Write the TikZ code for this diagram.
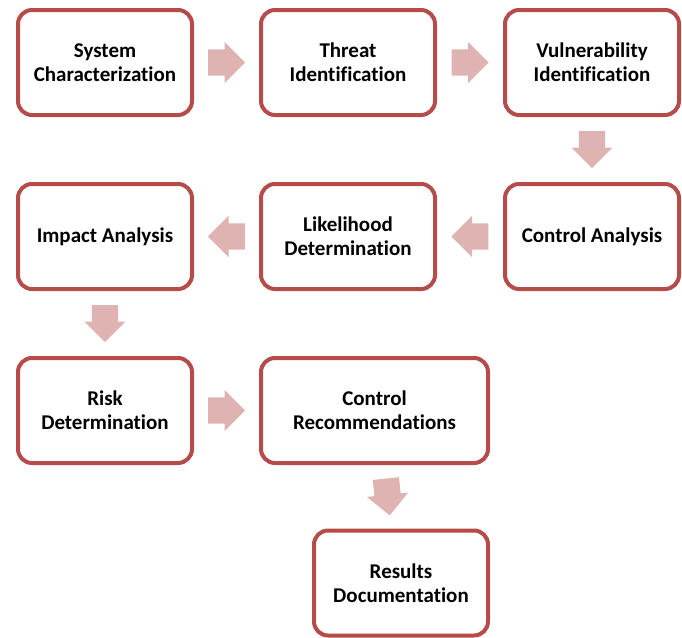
\documentclass[tikz,border=0pt]{standalone}
\usepackage{fontspec}
\setmainfont[Ligatures=NoCommon]{Carlito}
\usetikzlibrary{shapes.arrows,calc}
\definecolor{boxred}{RGB}{181,76,73}
\definecolor{arrowpink}{RGB}{223,179,178}

\begin{document}
\begin{tikzpicture}[x=1pt,y=-1pt,
	stage/.style={draw=boxred,line width=4pt,rounded corners=14pt,fill=white,
		minimum width=174pt,minimum height=105pt,align=center,
		font=\fontsize{21}{24}\selectfont\bfseries},
	flow/.style={single arrow,fill=arrowpink,draw=none,minimum height=37pt,
		inner xsep=0pt,inner ysep=13pt,single arrow head extend=7.5pt,
		anchor=tail,xshift=-18.5pt}]
	\useasboundingbox (0,0) rectangle (682,637);
	
	%row 1
	\node[stage] (sys) at (105,62.5)  {System\\Characterization};
	\node[stage] (thr) at (348,62.5)  {Threat\\Identification};
	\node[stage] (vul) at (592,62.5)  {Vulnerability\\Identification};
	%row 2
	\node[stage] (ctl) at (592,236.5) {Control Analysis};
	\node[stage] (lik) at (348,236.5) {Likelihood\\Determination};
	\node[stage] (imp) at (105,236.5) {Impact Analysis};
	%row 3
	\node[stage] (rsk) at (105,410.5) {Risk\\Determination};
	\node[stage,minimum width=227pt] (rec) at (374.5,410.5) {Control\\Recommendations};
	\node[stage] (res) at (401,583)   {Results\\Documentation};
	
	%block arrows (rotate first, so the shift runs along the arrow)
	\node[flow] (a1) at ($(sys.east)!0.5!(thr.west)$) {};
	\node[flow] (a2) at ($(thr.east)!0.5!(vul.west)$) {};
	\node[rotate=-90,flow] (a3) at ($(vul.south)!0.5!(ctl.north)$) {};
	\node[rotate=180,flow] (a4) at ($(ctl.west)!0.5!(lik.east)$) {};
	\node[rotate=180,flow] (a5) at ($(lik.west)!0.5!(imp.east)$) {};
	\node[rotate=-90,flow] (a6) at ($(imp.south)!0.5!(rsk.north)$) {};
	\node[flow] (a7) at ($(rsk.east)!0.5!(rec.west)$) {};
	\node[rotate=-84,flow] (a8) at ($(rec.south)!0.5!(res.north)$) {};
\end{tikzpicture}
\end{document}
